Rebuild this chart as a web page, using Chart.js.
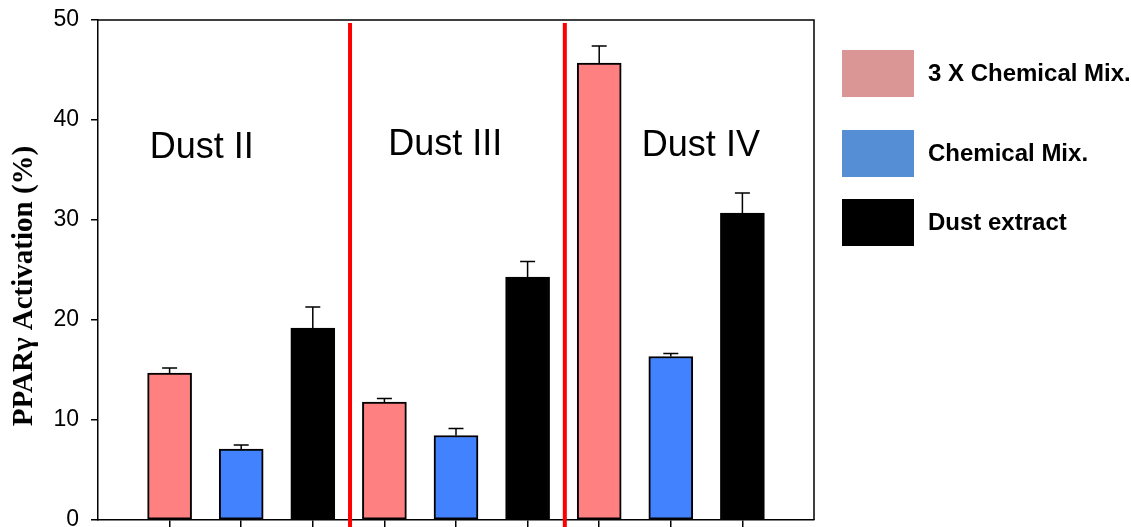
<!DOCTYPE html>
<html>
<head>
<meta charset="utf-8">
<script src="https://cdn.jsdelivr.net/npm/chart.js@4"></script>
<style>
  body { margin: 0; background: #fff; }
  #wrap { width: 1131px; height: 527px; }
</style>
</head>
<body>
<div id="wrap"><canvas id="chart" width="1131" height="527"></canvas></div>
<script>
// groups along the x axis
const groups = ['Dust II', 'Dust III', 'Dust IV'];

// series values (PPARγ activation, %) and their upper error bars
const seriesNames = ['3 X Chemical Mix.', 'Chemical Mix.', 'Dust extract'];
const threeXMix = [14.7, 11.8, 45.7];
const chemMix = [7.1, 8.45, 16.35];
const dustExtract = [19.2, 24.3, 30.7];
const threeXErr = [0.5, 0.35, 1.7];
const chemErr = [0.4, 0.7, 0.3];
const dustErr = [2.1, 1.55, 2.0];

const yTicks = [0, 10, 20, 30, 40, 50];
const yTitle = 'PPARγ Activation (%)';

const barColors = ['#ff8080', '#4282ff', '#000000'];
const legendColors = ['#da9694', '#558ed5', '#000000'];

// every bar has its own slot; slot 0 and 10 are empty padding at the ends
const nSlots = groups.length * 3 + 2;
const slotLabels = [];
for (let i = 0; i < nSlots; i++) slotLabels.push(String(i));

const allValues = [threeXMix, chemMix, dustExtract];
const allErrors = [threeXErr, chemErr, dustErr];

function slotData(values, s) {
    const d = new Array(nSlots).fill(null);
    for (let g = 0; g < values.length; g++) d[1 + g * 3 + s] = values[g];
    return d;
}

const datasets = allValues.map((vals, s) => ({
    label: seriesNames[s],
    data: slotData(vals, s),
    backgroundColor: barColors[s],
    borderColor: '#000',
    borderWidth: 2,
    borderSkipped: false,
    barThickness: 44,
    grouped: false
}));

// where the group names sit (slot position, y value)
const groupLabelPos = [[1.45, 37.2], [4.85, 37.5], [8.42, 37.4]];
// red separator lines (slot position)
const separators = [3.52, 6.52];

const extras = {
    id: 'extras',
    afterDatasetsDraw(chart) {
        const c = chart.ctx;
        const xs = chart.scales.x, ys = chart.scales.y;
        const area = chart.chartArea;

        // error bars (upper only)
        c.save();
        c.strokeStyle = '#000';
        c.lineWidth = 1.5;
        allValues.forEach((vals, s) => {
            vals.forEach((v, g) => {
                const x = xs.getPixelForValue(1 + g * 3 + s);
                const y0 = ys.getPixelForValue(v);
                const y1 = ys.getPixelForValue(v + allErrors[s][g]);
                c.beginPath();
                c.moveTo(x, y0);
                c.lineTo(x, y1);
                c.moveTo(x - 7.5, y1);
                c.lineTo(x + 7.5, y1);
                c.stroke();
            });
        });
        c.restore();

        // frame: top and right edges
        c.save();
        c.strokeStyle = '#000';
        c.lineWidth = 1.5;
        c.beginPath();
        c.moveTo(area.left, area.top);
        c.lineTo(area.right, area.top);
        c.lineTo(area.right, area.bottom);
        c.stroke();
        c.restore();

        // red separators between groups
        c.save();
        c.strokeStyle = '#ff0000';
        c.lineWidth = 4;
        separators.forEach((p) => {
            const x = xs.getPixelForValue(p);
            c.beginPath();
            c.moveTo(x, area.top + 3);
            c.lineTo(x, chart.height);
            c.stroke();
        });
        c.restore();

        // group names
        c.save();
        c.fillStyle = '#000';
        c.font = '36px "Liberation Sans", Arial, sans-serif';
        c.textAlign = 'center';
        c.textBaseline = 'middle';
        groups.forEach((name, g) => {
            const p = groupLabelPos[g];
            c.fillText(name, xs.getPixelForValue(p[0]), ys.getPixelForValue(p[1]));
        });
        c.restore();

        // y axis title
        c.save();
        c.fillStyle = '#000';
        c.font = 'bold 29px "Liberation Serif", "Times New Roman", serif';
        c.textAlign = 'center';
        c.textBaseline = 'middle';
        c.translate(25, 286);
        c.rotate(-Math.PI / 2);
        c.fillText(yTitle, 0, 0);
        c.restore();

        // legend
        c.save();
        const rowsY = [50, 130, 199];
        c.font = 'bold 24px "Liberation Sans", Arial, sans-serif';
        c.textBaseline = 'middle';
        c.textAlign = 'left';
        seriesNames.forEach((name, s) => {
            const bx = area.right + 28;
            c.fillStyle = legendColors[s];
            c.fillRect(bx, rowsY[s], 72, 47);
            c.fillStyle = '#000';
            c.fillText(name, bx + 86, rowsY[s] + 24);
        });
        c.restore();
    }
};

const ctx = document.getElementById('chart');

const chart = new Chart(ctx, {
    type: 'bar',
    data: {
        labels: slotLabels,
        datasets: datasets
    },
    options: {
        responsive: false,
        animation: false,
        layout: {
            padding: { top: 20, right: 317, left: 0, bottom: 0 }
        },
        plugins: {
            legend: { display: false },
            tooltip: { enabled: false }
        },
        scales: {
            x: {
                type: 'category',
                offset: false,
                grid: {
                    display: true,
                    offset: false,
                    drawOnChartArea: false,
                    drawTicks: true,
                    tickLength: 7,
                    lineWidth: 1.5,
                    color: (c) => (c.index === 0 || c.index === nSlots - 1) ? 'rgba(0,0,0,0)' : '#000'
                },
                border: { display: true, color: '#000', width: 1.5 },
                ticks: { display: false },
                afterFit: (s) => {
                    s.height = 7;
                    s.paddingLeft = 0; s.paddingRight = 0;
                }
            },
            y: {
                min: yTicks[0],
                max: yTicks[yTicks.length - 1],
                afterBuildTicks: (s) => { s.ticks = yTicks.map(v => ({ value: v })); },
                ticks: {
                    color: '#000',
                    padding: 12,
                    font: { family: '"Liberation Sans", Arial, sans-serif', size: 23 }
                },
                grid: {
                    display: true,
                    drawOnChartArea: false,
                    drawTicks: true,
                    tickLength: 7,
                    lineWidth: 1.5,
                    color: '#000'
                },
                border: { display: true, color: '#000', width: 1.5 },
                afterFit: (s) => {
                    s.width = 98;
                    s.paddingTop = 0; s.paddingBottom = 0;
                }
            }
        }
    },
    plugins: [extras]
});
</script>
</body>
</html>
